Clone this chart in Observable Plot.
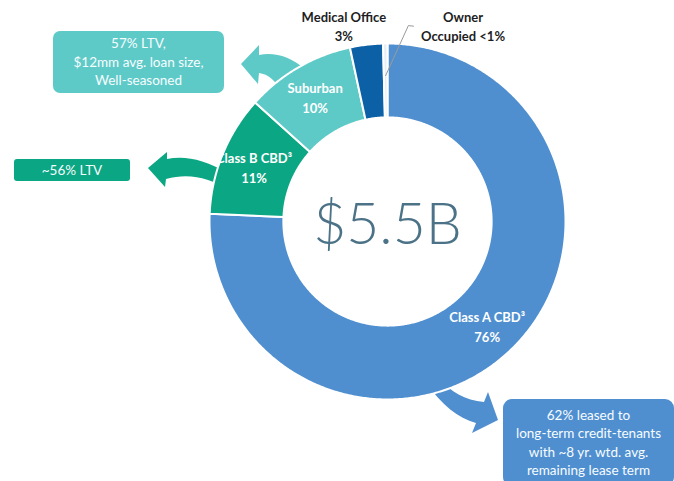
<!DOCTYPE html>
<html>
<head>
<meta charset="utf-8">
<script src="https://cdn.jsdelivr.net/npm/d3@7"></script>
<script src="https://cdn.jsdelivr.net/npm/@observablehq/plot@0.6"></script>
<style>
  html, body { margin: 0; padding: 0; background: #ffffff; }
  #wrap { position: relative; width: 674px; height: 481px; overflow: hidden; font-family: Lato, "Open Sans", sans-serif; }
  #wrap > svg, #wrap > .box { position: absolute; }
  .box { box-sizing: border-box; display: flex; align-items: center; justify-content: center;
         text-align: center; white-space: pre-line; color: #f7fcff; font-size: 13.5px; line-height: 18.5px; }
</style>
</head>
<body>
<div id="wrap"></div>
<script>
// ---- data ----
const categories = ["Class A CBD", "Class B CBD", "Suburban", "Medical Office", "Owner Occupied"];
const shares = [76, 11, 10, 3, 0.4];
const sliceLabels = ["Class A CBD³\n76%", "Class B CBD³\n11%", "Suburban\n10%", "Medical Office\n3%", "Owner\nOccupied <1%"];
const colors = ["#4f8fd0", "#0ba683", "#5ecac7", "#0c60a6", "#e6eef5"];
const totalLabel = "$5.5B";
const calloutCategories = ["Suburban", "Class B CBD", "Class A CBD"];
const calloutTexts = [
  "57% LTV,\n$12mm avg. loan size,\nWell-seasoned",
  "~56% LTV",
  "62% leased to\nlong-term credit-tenants\nwith ~8 yr. wtd. avg.\nremaining lease term"
];

// ---- geometry (layout) ----
const W = 674, H = 481, CX = 387, CY = 221, R = 178;
const INNER = 0.585;
const total = d3.sum(shares);
let acc = 0;
const slices = categories.map((name, i) => {
  const a0 = acc / total * 2 * Math.PI;
  acc += shares[i];
  const a1 = acc / total * 2 * Math.PI;
  return {name, value: shares[i], label: sliceLabels[i], a0, a1, mid: (a0 + a1) / 2};
});
const polar = (a, r) => ({x: r * Math.sin(a), y: r * Math.cos(a)});

const arcPts = [];
for (const s of slices) {
  const n = Math.max(2, Math.ceil((s.a1 - s.a0) / (Math.PI / 360)));
  const pts = [];
  for (let k = 0; k <= n; k++) pts.push(polar(s.a0 + (s.a1 - s.a0) * k / n, 1));
  for (let k = n; k >= 0; k--) pts.push(polar(s.a0 + (s.a1 - s.a0) * k / n, INNER));
  pts.push(pts[0]);
  for (const p of pts) arcPts.push({name: s.name, ...p});
}

const inside = slices.slice(0, 3).map(s => ({...s, ...polar(s.mid, 0.81)}));
const medical = slices[3], owner = slices[4];
const deg = Math.PI / 180;
const leader = [
  polar(owner.mid, 0.82),
  polar(owner.mid + 6.8 * deg, 1.107),
  polar(owner.mid + 8.3 * deg, 1.107)
];

const plot = Plot.plot({
  width: W, height: H, margin: 0,
  style: {background: "transparent", fontFamily: "Lato, 'Open Sans', sans-serif"},
  x: {domain: [-CX / R, (W - CX) / R], axis: null},
  y: {domain: [-(H - CY) / R, CY / R], axis: null},
  color: {domain: categories, range: colors},
  marks: [
    Plot.line(arcPts, {x: "x", y: "y", z: "name", fill: "name", stroke: "white", strokeWidth: 2, curve: "linear"}),
    Plot.text(inside, {x: "x", y: "y", text: "label", fill: "white", fontWeight: "bold", fontSize: 13, lineHeight: 1.5, lineAnchor: "middle"}),
    Plot.text([medical], {x: d => polar(d.mid, 1.12).x, y: d => polar(d.mid, 1.12).y, text: "label", dx: -20, dy: 2,
      fill: "#1e1e1e", fontWeight: "bold", fontSize: 13, lineHeight: 1.45, lineAnchor: "middle"}),
    Plot.text([owner], {x: d => polar(d.mid, 1.12).x, y: d => polar(d.mid, 1.12).y, text: "label", dx: 78, dy: 3,
      fill: "#1e1e1e", fontWeight: "bold", fontSize: 13, lineHeight: 1.45, lineAnchor: "middle"}),
    Plot.line(leader, {x: "x", y: "y", stroke: "#9a9a9a", strokeWidth: 1}),
    Plot.text([totalLabel], {x: () => 0, y: () => 0, text: d => d, dy: 4, fontSize: 57, fontWeight: 300,
      fill: "#4b7287", lineAnchor: "middle"})
  ]
});

// ---- annotation arrows & callout boxes ----
const wrap = document.getElementById("wrap");
const colorOf = c => colors[categories.indexOf(c)];
const arrowShapes = [
  "M241,64 L259,45 L259,55 C274,52 290,56 306,70 L306,92 L282,92 C276,81 268,74 259,73 L258,84 Z",
  "M148,168 L167,152 L167,159 C185,155 205,160 226,172 L226,188 C210,179 190,172 166,179 L165,187 Z",
  "M440,378 C450,392 465,400 484,402 L488,392 L498,420 L472,433 L476,423 C458,418 442,405 426,383 Z"
];
const svgNS = "http://www.w3.org/2000/svg";
const arrows = document.createElementNS(svgNS, "svg");
arrows.setAttribute("width", W); arrows.setAttribute("height", H);
arrows.style.left = "0px"; arrows.style.top = "0px";
arrowShapes.forEach((d, i) => {
  const p = document.createElementNS(svgNS, "path");
  p.setAttribute("d", d);
  p.setAttribute("fill", colorOf(calloutCategories[i]));
  arrows.appendChild(p);
});
wrap.appendChild(arrows);
plot.style.left = "0px"; plot.style.top = "0px";
wrap.appendChild(plot);

const boxLayout = [
  {left: 53, top: 31, width: 171, height: 62, radius: 7},
  {left: 14, top: 159, width: 116, height: 22, radius: 3},
  {left: 503, top: 399, width: 171, height: 87, radius: 9}
];
calloutTexts.forEach((t, i) => {
  const b = boxLayout[i];
  const div = document.createElement("div");
  div.className = "box";
  div.textContent = t;
  Object.assign(div.style, {left: b.left + "px", top: b.top + "px", width: b.width + "px", height: b.height + "px",
    borderRadius: b.radius + "px", background: colorOf(calloutCategories[i])});
  wrap.appendChild(div);
});
</script>
</body>
</html>
